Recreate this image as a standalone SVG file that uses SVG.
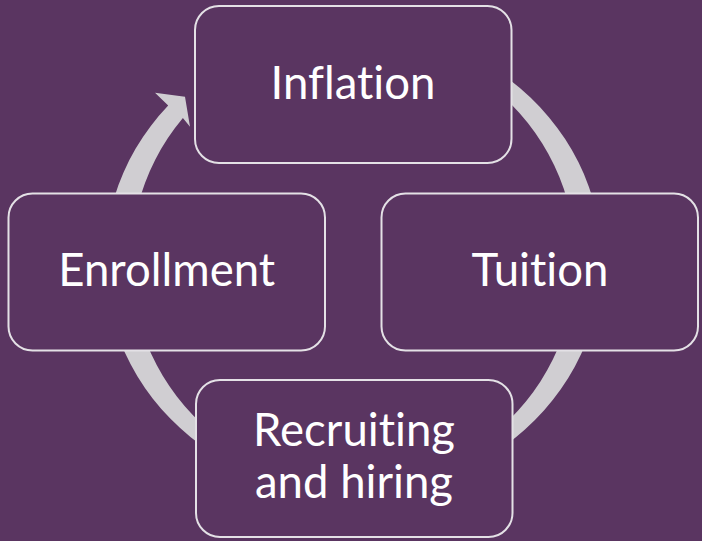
<svg xmlns="http://www.w3.org/2000/svg" width="702" height="541" viewBox="0 0 702 541">
  <style>
    .node rect { fill: #5A3561; stroke: #E4E1E6; stroke-width: 2; }
    .node text { fill: #FFFFFF; font-family: Lato, "Liberation Sans", sans-serif; font-size: 45.5px; font-weight: 400; font-variant-ligatures: none; text-anchor: middle; }
    .cycle { fill: #D0CED2; stroke: none; }
  </style>
  <rect x="0" y="0" width="702" height="541" fill="#5A3561"/>

  <!-- continuous cycle arrow, drawn behind the nodes -->
  <g id="connectors">
    <path class="cycle" d="M 353.3 28 A 248.5 233 0 1 1 168.2 105.6 L 155 92.7 L 185 96.7 L 190 126.7 L 182.9 118 A 222.5 222.5 0 1 0 353.3 38.5 Z"/>
  </g>

  <g id="node-inflation" class="node">
    <rect x="195" y="6" width="316.5" height="157" rx="24" ry="24"/>
    <text x="353" y="99">Inflation</text>
  </g>

  <g id="node-tuition" class="node">
    <rect x="381.5" y="193.5" width="316.5" height="157" rx="24" ry="24"/>
    <text x="540" y="286">Tuition</text>
  </g>

  <g id="node-recruiting" class="node">
    <rect x="196" y="380" width="316.5" height="157" rx="24" ry="24"/>
    <text x="354" y="446">Recruiting</text>
    <text x="354" y="498">and hiring</text>
  </g>

  <g id="node-enrollment" class="node">
    <rect x="8.5" y="193.5" width="316.5" height="157" rx="24" ry="24"/>
    <text x="166.7" y="286">Enrollment</text>
  </g>
</svg>
